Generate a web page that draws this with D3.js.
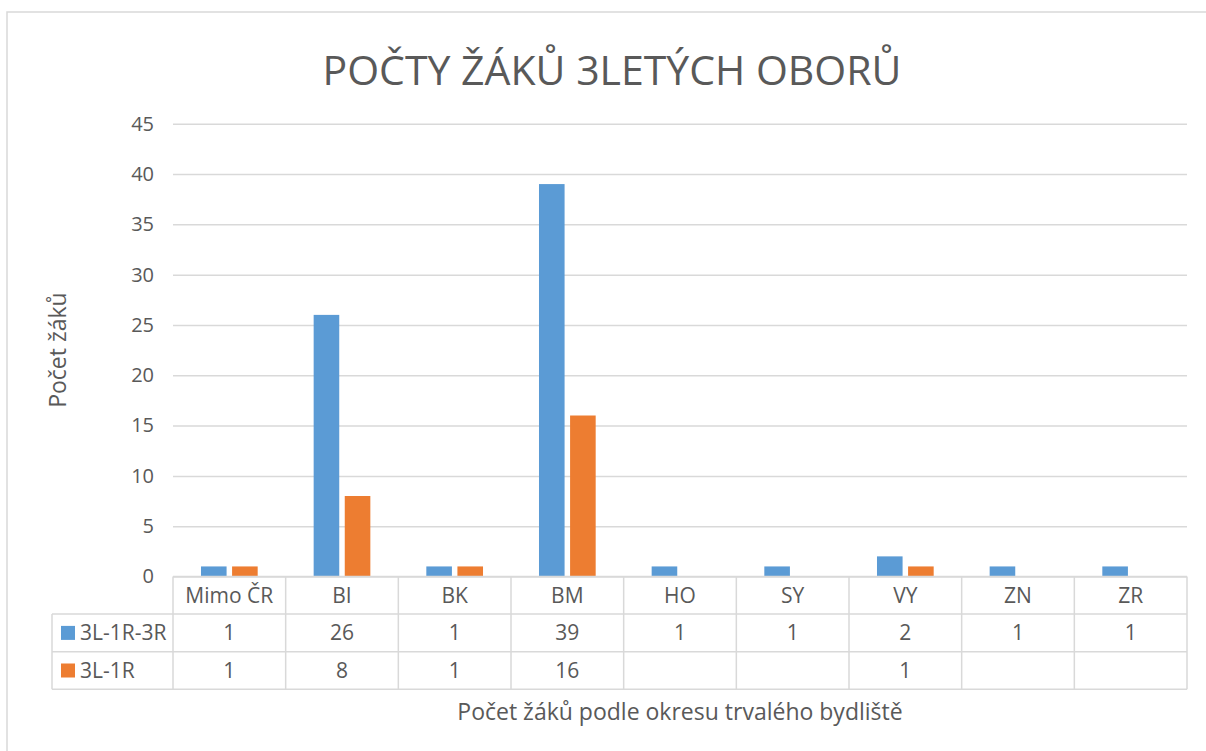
<!DOCTYPE html>
<html>
<head>
<meta charset="utf-8">
<script src="https://cdn.jsdelivr.net/npm/d3@7"></script>
<style>
    body { margin: 0; background: #fff; }
    text { font-family: "Open Sans", sans-serif; fill: #595959; }
</style>
</head>
<body>
<div id="my_dataviz"></div>
<script>
let categories = ["Mimo ČR", "BI", "BK", "BM", "HO", "SY", "VY", "ZN", "ZR"];
let seriesNames = ["3L-1R-3R", "3L-1R"];
let values1R3R = [1, 26, 1, 39, 1, 1, 2, 1, 1];
let values1R = [1, 8, 1, 16, null, null, 1, null, null];
let yTicks = [0, 5, 10, 15, 20, 25, 30, 35, 40, 45];
let colors = ["#5B9BD5", "#ED7D31"];

function main() {
    let series = [values1R3R, values1R];
    let data = [];
    categories.forEach(function (c, i) {
        data.push({"cat": c, "vals": series.map(function (s, j) { return {"name": seriesNames[j], "v": s[i]}; })});
    });
    plotChart(data, series);
}

function plotChart(data, series) {
    var width = 1206, height = 751;
    var plot = {left: 173, right: 1187, top: 123.7, bottom: 576.5};
    var rowH = 37.6;

    var svg = d3.select("#my_dataviz")
        .append("svg")
        .attr("width", width)
        .attr("height", height);

    // chart area border (runs off the picture on right and bottom)
    svg.append("rect")
        .attr("x", 7).attr("y", 12)
        .attr("width", 1210).attr("height", 760)
        .attr("fill", "none")
        .attr("stroke", "#d9d9d9")
        .attr("stroke-width", 1.5);

    svg.append("text")
        .attr("x", 612).attr("y", 85)
        .attr("text-anchor", "middle")
        .style("font-size", "41px")
        .text("POČTY ŽÁKŮ 3LETÝCH OBORŮ");

    var x = d3.scaleBand()
        .range([plot.left, plot.right])
        .domain(categories)
        .padding(0);

    var x1 = d3.scaleBand()
        .domain(seriesNames)
        .range([0, x.bandwidth()])
        .paddingInner(0.177)
        .paddingOuter(0.9);

    var y = d3.scaleLinear()
        .domain([0, 45])
        .range([plot.bottom, plot.top]);

    // gridlines + tick labels
    var yAxis = svg.append("g")
        .attr("transform", "translate(" + plot.left + ",0)")
        .call(d3.axisLeft(y).tickValues(yTicks).tickSize(-(plot.right - plot.left)).tickPadding(19));
    yAxis.select(".domain").remove();
    yAxis.selectAll(".tick line").attr("stroke", "#d9d9d9").attr("stroke-width", 1.5);
    yAxis.selectAll(".tick text")
        .style("font-size", "20px")
        .attr("fill", "#595959")
        .style("font-family", "\"Open Sans\", sans-serif");

    // bars
    var groups = svg.selectAll(".grp")
        .data(data)
        .enter()
        .append("g")
        .attr("transform", function (d) { return "translate(" + x(d.cat) + ",0)"; });

    groups.selectAll("rect")
        .data(function (d) { return d.vals.filter(function (e) { return e.v != null; }); })
        .enter()
        .append("rect")
        .attr("x", function (d) { return x1(d.name); })
        .attr("y", function (d) { return y(d.v); })
        .attr("width", x1.bandwidth())
        .attr("height", function (d) { return y(0) - y(d.v); })
        .attr("fill", function (d) { return colors[seriesNames.indexOf(d.name)]; });

    // data table
    var grid = svg.append("g")
        .attr("fill", "none")
        .attr("stroke", "#d9d9d9")
        .attr("stroke-width", 1.5);
    var tblLeft = 52;
    var rows = [plot.bottom, plot.bottom + rowH, plot.bottom + 2 * rowH, plot.bottom + 3 * rowH];
    grid.append("line").attr("x1", plot.left).attr("x2", plot.right).attr("y1", rows[0]).attr("y2", rows[0]);
    for (let r = 1; r < 4; r++) {
        grid.append("line").attr("x1", tblLeft).attr("x2", plot.right).attr("y1", rows[r]).attr("y2", rows[r]);
    }
    grid.append("line").attr("x1", tblLeft).attr("x2", tblLeft).attr("y1", rows[1]).attr("y2", rows[3]);
    categories.forEach(function (c) {
        grid.append("line").attr("x1", x(c)).attr("x2", x(c)).attr("y1", rows[0]).attr("y2", rows[3]);
    });
    grid.append("line").attr("x1", plot.right).attr("x2", plot.right).attr("y1", rows[0]).attr("y2", rows[3]);

    svg.selectAll(".catlbl")
        .data(categories)
        .enter()
        .append("text")
        .attr("x", function (d) { return x(d) + x.bandwidth() / 2; })
        .attr("y", rows[0] + rowH / 2)
        .attr("dy", "0.36em")
        .attr("text-anchor", "middle")
        .style("font-size", "21px")
        .text(function (d) { return d; });

    series.forEach(function (s, j) {
        var cy = rows[j + 1] + rowH / 2;
        svg.append("rect")
            .attr("x", 61).attr("y", cy - 7)
            .attr("width", 14).attr("height", 14)
            .attr("fill", colors[j]);
        svg.append("text")
            .attr("x", 80).attr("y", cy)
            .attr("dy", "0.36em")
            .style("font-size", "21px")
            .text(seriesNames[j]);
        svg.selectAll(".val" + j)
            .data(s)
            .enter()
            .append("text")
            .attr("x", function (d, i) { return x(categories[i]) + x.bandwidth() / 2; })
            .attr("y", cy)
            .attr("dy", "0.36em")
            .attr("text-anchor", "middle")
            .style("font-size", "21px")
            .text(function (d) { return d == null ? "" : d; });
    });

    // axis titles
    svg.append("text")
        .attr("transform", "translate(66," + ((plot.top + plot.bottom) / 2) + ") rotate(-90)")
        .attr("text-anchor", "middle")
        .style("font-size", "23px")
        .text("Počet žáků");

    svg.append("text")
        .attr("x", (plot.left + plot.right) / 2).attr("y", 720)
        .attr("text-anchor", "middle")
        .style("font-size", "23px")
        .text("Počet žáků podle okresu trvalého bydliště");
}

main();
</script>
</body>
</html>
